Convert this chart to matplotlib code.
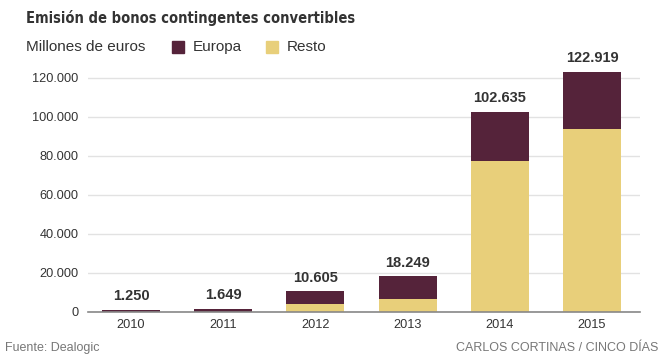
import matplotlib
matplotlib.use("Agg")
import matplotlib.pyplot as plt
from matplotlib.patches import Rectangle

# datos (millones de euros)
years = ["2010", "2011", "2012", "2013", "2014", "2015"]
europa = [1250, 1649, 6605, 11349, 25335, 29119]
resto = [0, 0, 4000, 6900, 77300, 93800]
totales = [1250, 1649, 10605, 18249, 102635, 122919]
yticks = [0, 20000, 40000, 60000, 80000, 100000, 120000]

c_europa = "#55233a"
c_resto = "#e8cf7a"
txt = "#333333"

plt.rcParams["font.family"] = ["Liberation Sans", "DejaVu Sans"]

fig = plt.figure(figsize=(6.64, 3.6), dpi=100)
ax = fig.add_axes([88 / 664, 1 - 312 / 360, (640 - 88) / 664, 250 / 360])

x = list(range(len(years)))
ax.bar(x, resto, width=0.63, color=c_resto, zorder=3)
ax.bar(x, europa, width=0.63, bottom=resto, color=c_europa, zorder=3)

for xi, t in zip(x, totales):
    ax.text(xi, t + 3300, f"{t:,}".replace(",", "."), ha="center", va="bottom",
            fontsize=10.5, fontweight="bold", color=txt,
            family=["Liberation Sans"])

ax.set_xlim(-0.466, 5.52)
ax.set_ylim(0, 128000)
ax.set_yticks(yticks)
ax.set_yticklabels([f"{v:,}".replace(",", ".") for v in yticks])
ax.set_xticks(x)
ax.set_xticklabels(years)
ax.tick_params(length=0, labelsize=9.2, colors=txt)
ax.tick_params(axis="y", pad=7)
ax.tick_params(axis="x", pad=5)
ax.grid(axis="y", color="#e2e2e2", linewidth=1, zorder=0)
for s in ["top", "right", "left"]:
    ax.spines[s].set_visible(False)
ax.spines["bottom"].set_color("#888888")
ax.spines["bottom"].set_linewidth(1.2)
ax.spines["bottom"].set_zorder(4)

title = fig.text(26 / 664, 1 - 18 / 360, "Emisión de bonos contingentes convertibles",
                 family=["DejaVu Sans"], fontstretch="condensed", fontweight="bold",
                 fontsize=16, color=txt, va="center", ha="left")
# ajustar el ancho del titulo a ~326 px
fig.canvas.draw()
w = title.get_window_extent().width
title.set_fontsize(16 * 328 / w)

fig.text(26 / 664, 1 - 47 / 360, "Millones de euros", fontsize=11, color=txt,
         va="center", ha="left")

# leyenda
fig.patches.append(Rectangle((172 / 664, 1 - 53 / 360), 12 / 664, 12 / 360,
                             transform=fig.transFigure, color=c_europa))
fig.text(193 / 664, 1 - 47 / 360, "Europa", fontsize=11, color=txt, va="center")
fig.patches.append(Rectangle((266 / 664, 1 - 53 / 360), 12 / 664, 12 / 360,
                             transform=fig.transFigure, color=c_resto))
fig.text(287 / 664, 1 - 47 / 360, "Resto", fontsize=11, color=txt, va="center")

fig.text(5 / 664, 1 - 348 / 360, "Fuente: Dealogic", fontsize=9, color="#777777",
         va="center", ha="left")
fig.text(658 / 664, 1 - 348 / 360, "CARLOS CORTINAS / CINCO DÍAS", fontsize=9,
         color="#777777", va="center", ha="right")

fig.savefig("out.png", dpi=100)
